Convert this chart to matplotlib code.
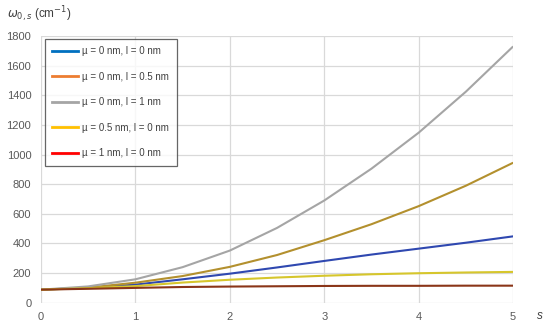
import numpy as np
import matplotlib.pyplot as plt
from matplotlib.lines import Line2D

plt.rcParams['font.family'] = ['Liberation Sans', 'DejaVu Sans']

## Data
s = [0, 0.5, 1, 1.5, 2, 2.5, 3, 3.5, 4, 4.5, 5]
w_mu0_l0 = [88, 100, 122, 158, 196, 238, 282, 325, 365, 405, 448]
w_mu0_l05 = [88, 102, 135, 180, 242, 322, 422, 530, 652, 790, 945]
w_mu0_l1 = [88, 110, 158, 240, 352, 505, 690, 905, 1148, 1425, 1730]
w_mu05_l0 = [88, 98, 112, 136, 155, 170, 182, 192, 199, 204, 208]
w_mu1_l0 = [88, 94, 100, 106, 109, 111, 113, 114, 114, 115, 115]

labels = ['µ = 0 nm, l = 0 nm', 'µ = 0 nm, l = 0.5 nm', 'µ = 0 nm, l = 1 nm',
          'µ = 0.5 nm, l = 0 nm', 'µ = 1 nm, l = 0 nm']
series = [w_mu0_l0, w_mu0_l05, w_mu0_l1, w_mu05_l0, w_mu1_l0]
# colours as the lines appear in the plot, and as they appear in the legend
line_colors = ['#2f48b0', '#b3902e', '#a5a5a5', '#d6c62c', '#8a3518']
legend_colors = ['#0070c0', '#ed7d31', '#a5a5a5', '#ffc000', '#ff0000']

fig = plt.figure(figsize=(5.5, 3.25), dpi=100)
ax = fig.add_axes([0.0745, 0.0686, 0.8585, 0.8204])

for y, c in zip(series, line_colors):
    ax.plot(s, y, color=c, lw=1.5, solid_capstyle='butt')

ax.set_xlim(0, 5)
ax.set_ylim(0, 1800)
ax.set_xticks(range(0, 6))
ax.set_yticks(range(0, 1801, 200))
ax.grid(True, color='#d9d9d9', lw=0.9)
ax.set_axisbelow(True)
for sp in ax.spines.values():
    sp.set_visible(False)
ax.tick_params(length=0, labelsize=8, labelcolor='#595959', pad=7)

fig.text(0.012, 0.958, r'$\omega_{0,s}$ (cm$^{-1}$)', fontsize=8.5, color='#404040',
         ha='left', va='center')
fig.text(0.982, 0.028, 's', fontsize=8.5, color='#404040', style='italic',
         ha='center', va='center')

handles = [Line2D([], [], color=c, lw=2) for c in legend_colors]
leg = ax.legend(handles, labels, loc='upper left', bbox_to_anchor=(0.0085, 0.99),
                borderaxespad=0, fontsize=7, frameon=True, fancybox=False,
                labelspacing=1.6, handlelength=2.6, borderpad=0.75,
                handletextpad=0.5)
leg.get_frame().set_edgecolor('#404040')
leg.get_frame().set_linewidth(0.9)
for t in leg.get_texts():
    t.set_color('#404040')

fig.savefig('out.png', dpi=100)
